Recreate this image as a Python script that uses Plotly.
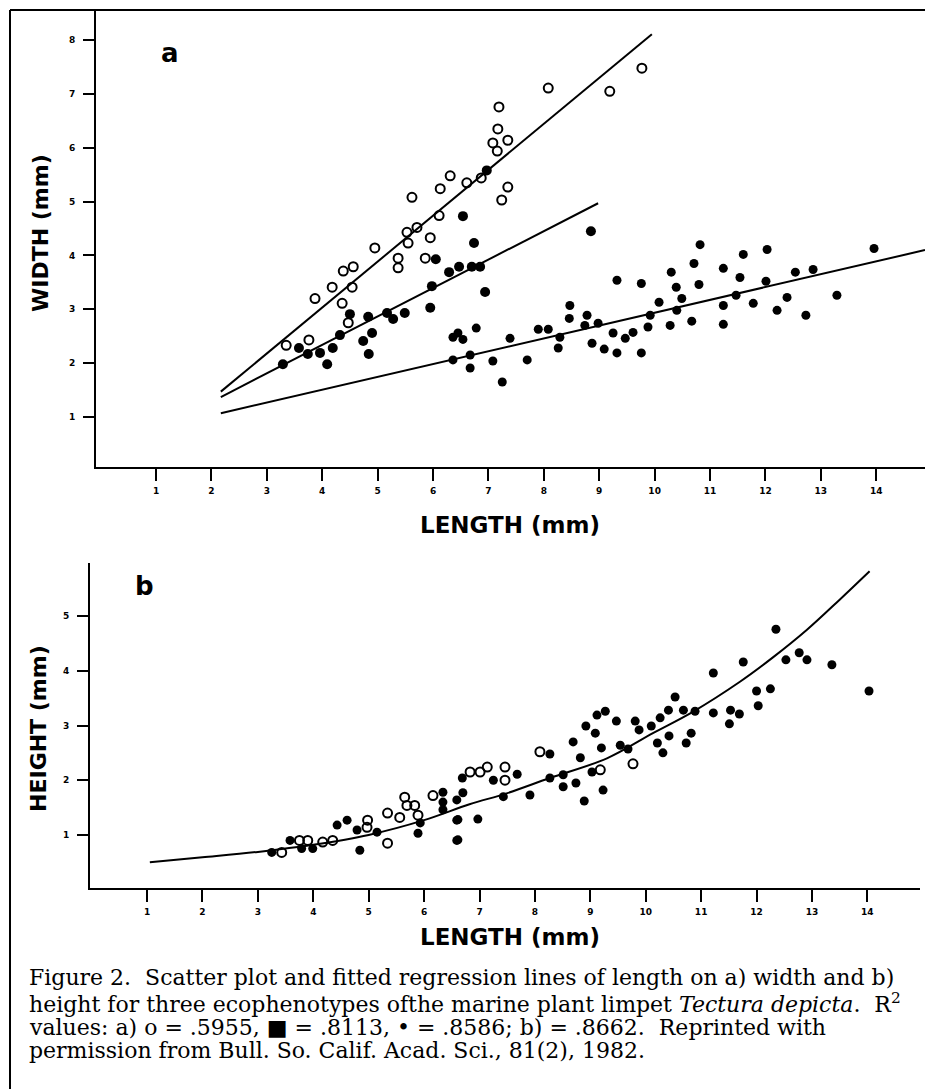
import plotly.graph_objects as go

# ---------------- Panel a: WIDTH vs LENGTH ----------------
a_open_x = [3.35, 3.76, 3.87, 4.18, 4.36, 4.38, 4.56, 4.54, 4.47, 4.95, 5.37, 5.37, 5.55, 5.62,
            5.53, 5.71, 5.95, 5.86, 6.13, 6.11, 6.31, 6.61, 6.87, 7.19, 7.17, 7.08, 7.16, 7.35,
            7.24, 7.35, 8.08, 9.19, 9.77]
a_open_y = [2.33, 2.43, 3.20, 3.41, 3.11, 3.71, 3.79, 3.41, 2.75, 4.14, 3.95, 3.77, 4.23, 5.08,
            4.43, 4.52, 4.33, 3.95, 5.24, 4.74, 5.48, 5.35, 5.44, 6.76, 6.35, 6.09, 5.94, 6.14,
            5.03, 5.27, 7.11, 7.05, 7.48]

a_sq_x = [3.29, 3.58, 3.74, 3.96, 4.09, 4.19, 4.32, 4.50, 4.74, 4.83, 4.84, 4.90, 5.17, 5.28,
          5.49, 5.95, 5.98, 6.05, 6.29, 6.47, 6.54, 6.74, 6.70, 6.85, 6.94, 6.97, 8.85]
a_sq_y = [1.98, 2.28, 2.17, 2.19, 1.98, 2.28, 2.52, 2.91, 2.41, 2.86, 2.17, 2.56, 2.93, 2.82,
          2.93, 3.03, 3.43, 3.93, 3.69, 3.79, 4.73, 4.23, 3.79, 3.79, 3.32, 5.58, 4.45]

a_dot_x = [6.36, 6.45, 6.54, 6.78, 6.36, 6.67, 6.67, 7.08, 7.25, 7.39, 7.70, 7.90, 8.08, 8.26,
           8.29, 8.47, 8.46, 8.78, 8.74, 8.87, 8.98, 9.09, 9.25, 9.32, 9.32, 9.47, 9.61, 9.76,
           9.76, 9.88, 9.92, 10.08, 10.28, 10.30, 10.39, 10.40, 10.49, 10.67, 10.71, 10.82,
           10.80, 11.24, 11.24, 11.24, 11.47, 11.54, 11.60, 11.78, 12.01, 12.03, 12.21, 12.39,
           12.54, 12.73, 12.86, 13.29, 13.96]
a_dot_y = [2.48, 2.56, 2.44, 2.65, 2.06, 2.15, 1.91, 2.04, 1.65, 2.46, 2.06, 2.63, 2.63, 2.28,
           2.48, 3.07, 2.83, 2.89, 2.70, 2.37, 2.74, 2.26, 2.56, 2.19, 3.54, 2.46, 2.57, 3.48,
           2.19, 2.67, 2.89, 3.13, 2.70, 3.69, 3.41, 2.98, 3.20, 2.78, 3.85, 4.20,
           3.46, 3.76, 3.07, 2.72, 3.26, 3.59, 4.02, 3.11, 3.52, 4.11, 2.98, 3.22,
           3.69, 2.89, 3.74, 3.26, 4.13]

# fitted regression lines (end points)
a_fit_open_x = [2.17, 9.95]
a_fit_open_y = [1.47, 8.11]
a_fit_sq_x = [2.17, 8.98]
a_fit_sq_y = [1.37, 4.97]
a_fit_dot_x = [2.17, 14.88]
a_fit_dot_y = [1.07, 4.10]

# ---------------- Panel b: HEIGHT vs LENGTH ----------------
b_open_x = [3.43, 3.75, 3.90, 4.17, 4.35, 4.98, 5.34, 5.34, 5.65, 5.69, 5.83, 6.16, 5.89, 5.56,
            4.97, 7.14, 7.46, 6.83, 7.01, 7.46, 9.18, 9.77, 8.09]
b_open_y = [0.68, 0.90, 0.90, 0.87, 0.90, 1.27, 0.85, 1.40, 1.69, 1.54, 1.54, 1.72, 1.36, 1.32,
            1.14, 2.24, 2.24, 2.15, 2.15, 2.00, 2.19, 2.30, 2.52]

b_dot_x = [3.25, 3.58, 3.79, 3.99, 4.43, 4.61, 4.84, 4.79, 5.15, 5.89, 5.93, 6.34, 6.59, 6.59,
           6.59, 7.68, 6.69, 7.25, 6.34, 6.70, 6.34, 6.61, 6.97, 6.61, 7.43, 7.91, 8.27, 8.51,
           8.51, 8.74, 8.89, 9.23, 9.03, 8.27, 8.69, 8.82, 8.92, 9.09, 9.12, 9.27, 9.20, 9.47,
           9.54, 9.68, 9.81, 9.88, 10.10, 10.26, 10.41, 10.53, 10.21, 10.31, 10.42, 10.68,
           10.89, 10.73, 10.82, 11.22, 11.22, 11.51, 11.53, 11.69, 11.76, 12.00, 12.03, 12.25,
           12.35, 12.53, 12.77, 12.91, 13.36, 14.03]
b_dot_y = [0.68, 0.90, 0.75, 0.75, 1.18, 1.27, 0.72, 1.09, 1.05, 1.03, 1.22, 1.78, 0.90, 1.27,
           1.64, 2.11, 2.04, 2.00, 1.60, 1.77, 1.46, 1.28, 1.29, 0.91, 1.70, 1.73, 2.04, 2.10,
           1.88, 1.95, 1.62, 1.82, 2.15, 2.48, 2.70, 2.41, 2.99, 2.86, 3.19, 3.26, 2.59, 3.08,
           2.64, 2.57, 3.08, 2.92, 2.99, 3.14, 3.28, 3.52, 2.68, 2.50, 2.81, 3.28,
           3.26, 2.68, 2.86, 3.96, 3.23, 3.03, 3.28, 3.21, 4.16, 3.63, 3.36, 3.67,
           4.76, 4.20, 4.33, 4.20, 4.11, 3.63]

# fitted curve, points
b_fit_x = [1.05, 2.0, 3.0, 4.0, 5.0, 6.0, 6.82, 7.49, 8.27, 9.30, 10.13, 10.85, 11.70, 12.29,
           12.91, 13.50, 14.04]
b_fit_y = [0.50, 0.59, 0.69, 0.82, 1.00, 1.27, 1.56, 1.76, 2.04, 2.40, 2.86, 3.25, 3.80, 4.24,
           4.75, 5.30, 5.82]

x_ticks = list(range(1, 15))
a_y_ticks = list(range(1, 9))
b_y_ticks = [1, 2, 3, 4, 5]

W, H = 925, 1089


def px(x):
    return x / W


def py(y):
    return 1 - y / H


fig = go.Figure()

open_marker = dict(symbol="circle-open", size=9, color="black", line=dict(width=2, color="black"))

# panel a
for fx, fy in [(a_fit_open_x, a_fit_open_y), (a_fit_sq_x, a_fit_sq_y), (a_fit_dot_x, a_fit_dot_y)]:
    fig.add_trace(go.Scatter(x=fx, y=fy, mode="lines", line=dict(color="black", width=2),
                             xaxis="x", yaxis="y", hoverinfo="skip"))
fig.add_trace(go.Scatter(x=a_open_x, y=a_open_y, mode="markers", marker=open_marker,
                         xaxis="x", yaxis="y", name="o"))
fig.add_trace(go.Scatter(x=a_sq_x, y=a_sq_y, mode="markers",
                         marker=dict(symbol="circle", size=10, color="black"),
                         xaxis="x", yaxis="y", name="■"))
fig.add_trace(go.Scatter(x=a_dot_x, y=a_dot_y, mode="markers",
                         marker=dict(symbol="circle", size=9, color="black"),
                         xaxis="x", yaxis="y", name="•"))

# panel b
fig.add_trace(go.Scatter(x=b_fit_x, y=b_fit_y, mode="lines",
                         line=dict(color="black", width=2, shape="spline"),
                         xaxis="x2", yaxis="y2", hoverinfo="skip"))
fig.add_trace(go.Scatter(x=b_open_x, y=b_open_y, mode="markers", marker=open_marker,
                         xaxis="x2", yaxis="y2", name="o"))
fig.add_trace(go.Scatter(x=b_dot_x, y=b_dot_y, mode="markers",
                         marker=dict(symbol="circle", size=9, color="black"),
                         xaxis="x2", yaxis="y2", name="•"))

tickfont = dict(family="DejaVu Sans", size=9, color="black", weight="bold")
axis_common = dict(showline=True, linecolor="black", linewidth=2, ticks="outside",
                   tickwidth=2, tickcolor="black", showgrid=False, zeroline=False,
                   tickfont=tickfont, mirror=False)

fig.update_layout(
    width=W, height=H, autosize=False,
    margin=dict(l=0, r=0, t=0, b=0),
    paper_bgcolor="white", plot_bgcolor="white",
    showlegend=False,
    xaxis=dict(domain=[px(96), 1.0], range=[-0.083, 14.88], anchor="y",
               tickvals=x_ticks, ticklen=12, ticklabelstandoff=2, **axis_common),
    yaxis=dict(domain=[py(467), py(10)], range=[0.07, 8.56], anchor="x",
               tickvals=a_y_ticks, ticklen=11, ticklabelstandoff=6, **axis_common),
    xaxis2=dict(domain=[px(90), px(920)], range=[-0.03, 14.95], anchor="y2",
                tickvals=x_ticks, ticklen=12, ticklabelstandoff=2, **axis_common),
    yaxis2=dict(domain=[py(888), py(563)], range=[0.03, 5.97], anchor="x2",
                tickvals=b_y_ticks, ticklen=11, ticklabelstandoff=6, **axis_common),
)

vtitle_font = dict(family="DejaVu Sans", size=22, color="black", weight="bold")
htitle_font = dict(family="DejaVu Sans", size=23, color="black", weight="bold")
caption_font = dict(family="DejaVu Serif", size=22, color="black")

annotations = [
    dict(text="a", x=px(170), y=py(53), font=dict(family="DejaVu Sans", size=26, color="black", weight="bold")),
    dict(text="b", x=px(144), y=py(586), font=dict(family="DejaVu Sans", size=26, color="black", weight="bold")),
    dict(text="WIDTH (mm)", x=px(40), y=py(233), textangle=-90, font=vtitle_font),
    dict(text="HEIGHT (mm)", x=px(38), y=py(729), textangle=-90, font=vtitle_font),
    dict(text="LENGTH (mm)", x=px(510), y=py(525), font=htitle_font),
    dict(text="LENGTH (mm)", x=px(510), y=py(937), font=htitle_font),
]
caption_lines = [
    (977, "Figure 2.  Scatter plot and fitted regression lines of length on a) width and b)"),
    (1003, "height for three ecophenotypes ofthe marine plant limpet <i>Tectura depicta</i>.  R<sup>2</sup>"),
    (1027, "values: a) o = .5955, ■ = .8113, • = .8586; b) = .8662.  Reprinted with"),
    (1050, "permission from Bull. So. Calif. Acad. Sci., 81(2), 1982."),
]
for yy, t in caption_lines:
    annotations.append(dict(text=t, x=px(27), y=py(yy), xanchor="left", font=caption_font))

for a in annotations:
    a.setdefault("xanchor", "center")
    a.setdefault("yanchor", "middle")
    a.update(xref="paper", yref="paper", showarrow=False)
fig.update_layout(annotations=annotations)

# figure frame (left and top border of the printed figure box)
fig.add_shape(type="line", xref="paper", yref="paper", x0=px(10), x1=px(10), y0=0, y1=py(10),
              line=dict(color="black", width=2))
fig.add_shape(type="line", xref="paper", yref="paper", x0=px(10), x1=1, y0=py(10), y1=py(10),
              line=dict(color="black", width=2))

fig.write_html("out.html", config={"displayModeBar": False},
               post_script="document.body.style.margin='0px';document.body.style.overflow='hidden';")
